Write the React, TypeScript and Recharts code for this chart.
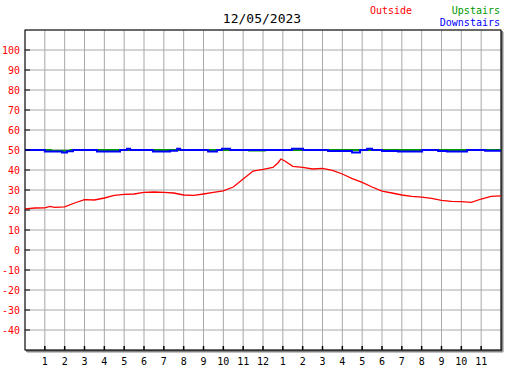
import { LineChart, Line, XAxis, YAxis, CartesianGrid, ReferenceArea } from 'recharts';

const MONO = '"DejaVu Sans Mono", monospace';

const COLORS = {
  outside: '#ff0000',
  upstairs: '#009900',
  downstairs: '#0000ff',
  grid: '#a8a8a8',
};

const TITLE = '12/05/2023';

// y axis
const yTicks = [-40, -30, -20, -10, 0, 10, 20, 30, 40, 50, 60, 70, 80, 90, 100];

// x axis: hours of the day
const hourTicks = [1, 2, 3, 4, 5, 6, 7, 8, 9, 10, 11, 12, 13, 14, 15, 16, 17, 18, 19, 20, 21, 22, 23];
const hourLabels = ['1', '2', '3', '4', '5', '6', '7', '8', '9', '10', '11', '12', '1', '2', '3', '4', '5', '6', '7', '8', '9', '10', '11'];

// Outside temperature
const outsideHours = [
  0, 0.5, 1, 1.25, 1.5, 2, 2.5, 3, 3.5, 4, 4.5, 5, 5.5, 6, 6.5, 7, 7.5, 8, 8.5, 9, 9.5, 10, 10.5, 11, 11.5,
  12, 12.5, 12.75, 12.9, 13.1, 13.5, 14, 14.5, 15, 15.5, 16, 16.5, 17, 17.5, 18, 18.5, 19, 19.5, 20, 20.5,
  21, 21.5, 22, 22.5, 23, 23.5, 24,
];
const outsideTemps = [
  20.6, 21.0, 21.1, 21.8, 21.3, 21.6, 23.5, 25.2, 25.0, 26.0, 27.3, 27.8, 28.0, 28.8, 29.0, 28.8, 28.5, 27.5,
  27.3, 28.0, 28.8, 29.6, 31.5, 35.5, 39.5, 40.3, 41.3, 43.5, 45.5, 44.5, 41.8, 41.3, 40.5, 40.8, 39.8, 38.0,
  35.7, 33.8, 31.5, 29.4, 28.5, 27.5, 26.8, 26.4, 25.8, 24.8, 24.3, 24.2, 23.8, 25.5, 26.8, 27.1,
];

// Upstairs (step readings)
const upstairsHours = [0, 1.3, 2.3, 11.3, 12.1, 24];
const upstairsTemps = [50, 49.6, 50, 49.7, 50, 50];

// Downstairs (step readings)
const downstairsHours = [
  0, 1.0, 1.87, 2.12, 2.42, 3.63, 4.79, 5.14, 5.3, 6.45, 7.31, 7.67, 7.82, 9.23, 9.68, 9.93, 10.34, 13.46,
  14.02, 15.28, 16.49, 16.89, 17.25, 17.5, 18.0, 18.81, 20.02, 20.83, 21.28, 22.29, 23.2, 24,
];
const downstairsTemps = [
  50, 49.3, 48.7, 49.4, 50, 49.3, 50, 50.6, 50, 49.3, 49.6, 50.6, 50, 49.3, 50, 50.6, 50, 50.6,
  50, 49.5, 48.8, 50, 50.6, 50, 49.5, 49.2, 50, 49.5, 49.2, 50, 49.6, 49.6,
];

const zip = (hours: number[], temps: number[]) => hours.map((h, i) => ({ h, t: temps[i] }));

const outsideData = zip(outsideHours, outsideTemps);
const upstairsData = zip(upstairsHours, upstairsTemps);
const downstairsData = zip(downstairsHours, downstairsTemps);

function YTick(props: any) {
  const { x, y, payload } = props;
  return (
    <g>
      <line x1={x} x2={x + 5} y1={y} y2={y} stroke="#000" />
      <text x={x - 5} y={y} textAnchor="end" dominantBaseline="central" fontFamily={MONO} fontSize={10} fill={COLORS.outside}>
        {payload.value}
      </text>
    </g>
  );
}

function XTick(props: any) {
  const { x, y, payload, index } = props;
  return (
    <g>
      <line x1={x} x2={x} y1={y - 4} y2={y} stroke="#000" strokeWidth={1.5} />
      <text x={x} y={y + 11} textAnchor="middle" dominantBaseline="central" fontFamily={MONO} fontSize={10} fill="#000">
        {hourLabels[index] ?? payload.value}
      </text>
    </g>
  );
}

function PlotFrame(props: any) {
  const { x, y, width, height } = props;
  return (
    <g>
      <rect x={x} y={y} width={width} height={height} fill="none" stroke="#000" />
      <line x1={x + 1} x2={x + width + 1} y1={y + height + 1} y2={y + height + 1} stroke="#000" />
      <line x1={x + width + 1} x2={x + width + 1} y1={y + 1} y2={y + height + 1} stroke="#000" />
      <line x1={x + 2} x2={x + width + 2} y1={y + height + 2} y2={y + height + 2} stroke="#888" />
      <line x1={x + width + 2} x2={x + width + 2} y1={y + 2} y2={y + height + 2} stroke="#888" />
    </g>
  );
}

const legendText = { position: 'absolute' as const, fontFamily: MONO, fontSize: 10, lineHeight: '12px' };

export default function App() {
  return (
    <div style={{ position: 'absolute', left: 0, top: 0, width: 527, height: 370, background: '#fff' }}>
      <div style={{ position: 'absolute', left: 0, width: 524, top: 11, textAlign: 'center', fontFamily: MONO, fontSize: 13, lineHeight: '16px', color: '#000' }}>
        {TITLE}
      </div>
      <div style={{ ...legendText, left: 370, top: 5, color: COLORS.outside }}>Outside</div>
      <div style={{ ...legendText, right: 27, top: 5, color: COLORS.upstairs }}>Upstairs</div>
      <div style={{ ...legendText, right: 27, top: 17, color: COLORS.downstairs }}>Downstairs</div>
      <LineChart width={527} height={370} margin={{ top: 30, right: 26, bottom: 0, left: 0 }}>
        <CartesianGrid stroke={COLORS.grid} />
        <XAxis
          dataKey="h"
          type="number"
          domain={[0, 24]}
          ticks={hourTicks}
          height={20}
          axisLine={false}
          tickLine={false}
          tickSize={0}
          tickMargin={0}
          tick={<XTick />}
          interval={0}
          allowDataOverflow
        />
        <YAxis
          type="number"
          domain={[-50, 110]}
          ticks={yTicks}
          width={25}
          axisLine={false}
          tickLine={false}
          tickSize={0}
          tickMargin={0}
          tick={<YTick />}
          interval={0}
          allowDataOverflow
        />
        <Line data={upstairsData} dataKey="t" type="stepAfter" stroke={COLORS.upstairs} strokeWidth={2} dot={false} isAnimationActive={false} />
        <Line data={downstairsData} dataKey="t" type="stepAfter" stroke={COLORS.downstairs} strokeWidth={2} dot={false} isAnimationActive={false} />
        <Line data={outsideData} dataKey="t" type="linear" stroke={COLORS.outside} strokeWidth={1.3} dot={false} isAnimationActive={false} />
        <ReferenceArea x1={0} x2={24} y1={-50} y2={110} shape={<PlotFrame />} ifOverflow="visible" />
      </LineChart>
    </div>
  );
}
